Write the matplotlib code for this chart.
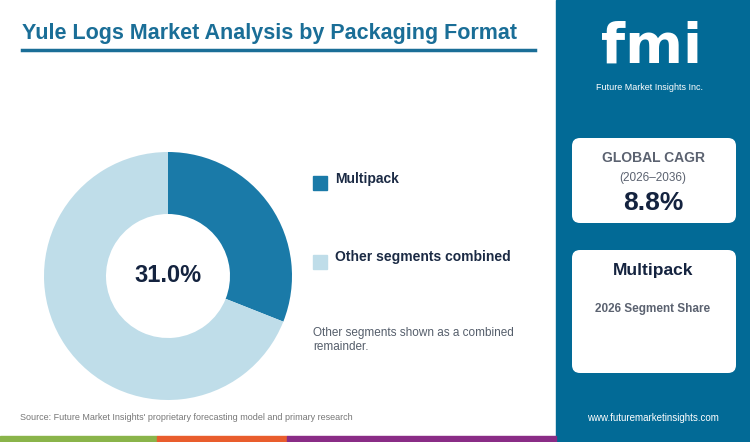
import matplotlib
matplotlib.use("Agg")
import matplotlib.pyplot as plt
from matplotlib.patches import FancyBboxPatch, Rectangle

categories = ["Multipack", "Other segments combined"]
values = [31.0, 69.0]
colors = ["#1a7aa8", "#bfdde9"]
cagr = "8.8%"

W, H = 750, 442
fig = plt.figure(figsize=(7.5, 4.42), dpi=100)
fig.patch.set_facecolor("white")
bg = fig.add_axes([0, 0, 1, 1])
bg.set_xlim(0, W); bg.set_ylim(H, 0); bg.axis("off")

# right panel
bg.add_patch(Rectangle((556, 0), 194, 442, color="#026a96", zorder=0))
# bottom stripes
bg.add_patch(Rectangle((0, 436), 157, 6, color="#8ab44a"))
bg.add_patch(Rectangle((157, 436), 130, 6, color="#e95d2d"))
bg.add_patch(Rectangle((287, 436), 269, 6, color="#8a2c86"))

# title
bg.text(22, 33, "Yule Logs Market Analysis by Packaging Format", fontsize=15.5, fontweight="bold",
        color="#1a6e97", va="center", ha="left", family="Liberation Sans")
bg.plot([22, 535], [50, 50], color="#1a6e97", lw=2.5)

# legend
bg.add_patch(Rectangle((313, 176), 14, 14, color=colors[0]))
bg.text(335, 179, categories[0], fontsize=10, fontweight="bold", color="#1b2a44", va="center", family="Liberation Sans")
bg.add_patch(Rectangle((313, 255), 14, 14, color=colors[1]))
bg.text(335, 257, categories[1], fontsize=10, fontweight="bold", color="#1b2a44", va="center", family="Liberation Sans")
bg.text(313, 340, "Other segments shown as a combined\nremainder.", fontsize=8.5, color="#555e6b",
        va="center", family="Liberation Sans", linespacing=1.3)

bg.text(20, 418, "Source: Future Market Insights' proprietary forecasting model and primary research",
        fontsize=6.5, color="#777777", va="center", family="Liberation Sans")

# logo
bg.text(652, 48, "fmi", fontsize=40, fontweight="bold", color="white", ha="center", va="center", family="DejaVu Sans")
bg.text(650, 87, "Future Market Insights Inc.", fontsize=6.5, color="white", ha="center", va="center", family="Liberation Sans")

# boxes
for (y0, h) in [(138, 85), (250, 123)]:
    bg.add_patch(FancyBboxPatch((572, y0), 164, h, boxstyle="round,pad=0,rounding_size=8",
                                fc="white", ec="none"))
bg.text(653, 158, "GLOBAL CAGR", fontsize=10, fontweight="bold", color="#5b6270", ha="center", va="center", family="Liberation Sans")
bg.text(653, 178, "(2026–2036)", fontsize=8.5, color="#5b6270", ha="center", va="center", family="Liberation Sans")
bg.text(653, 203, cagr, fontsize=19, fontweight="bold", color="#14233f", ha="center", va="center", family="Liberation Sans")
bg.text(653, 270, categories[0], fontsize=12.5, fontweight="bold", color="#14233f", ha="center", va="center", family="Liberation Sans")
bg.text(653, 309, "2026 Segment Share", fontsize=8.5, fontweight="bold", color="#5b6270", ha="center", va="center", family="Liberation Sans")
bg.text(653, 418, "www.futuremarketinsights.com", fontsize=7, color="white", ha="center", va="center", family="Liberation Sans")

# donut
cx, cy, r = 168, 276, 124
ax = fig.add_axes([(cx - r) / W, 1 - (cy + r) / H, 2 * r / W, 2 * r / H])
ax.pie(values, colors=colors, startangle=90, counterclock=False, radius=1,
       wedgeprops=dict(width=0.5, edgecolor="white", linewidth=0))
ax.set_xlim(-1, 1); ax.set_ylim(-1, 1)
ax.set_aspect("auto")
ax.text(0, 0, f"{values[0]:.1f}%", fontsize=17, fontweight="bold", color="#14233f",
        ha="center", va="center", family="Liberation Sans")

fig.savefig("out.png", dpi=100, facecolor="white")
